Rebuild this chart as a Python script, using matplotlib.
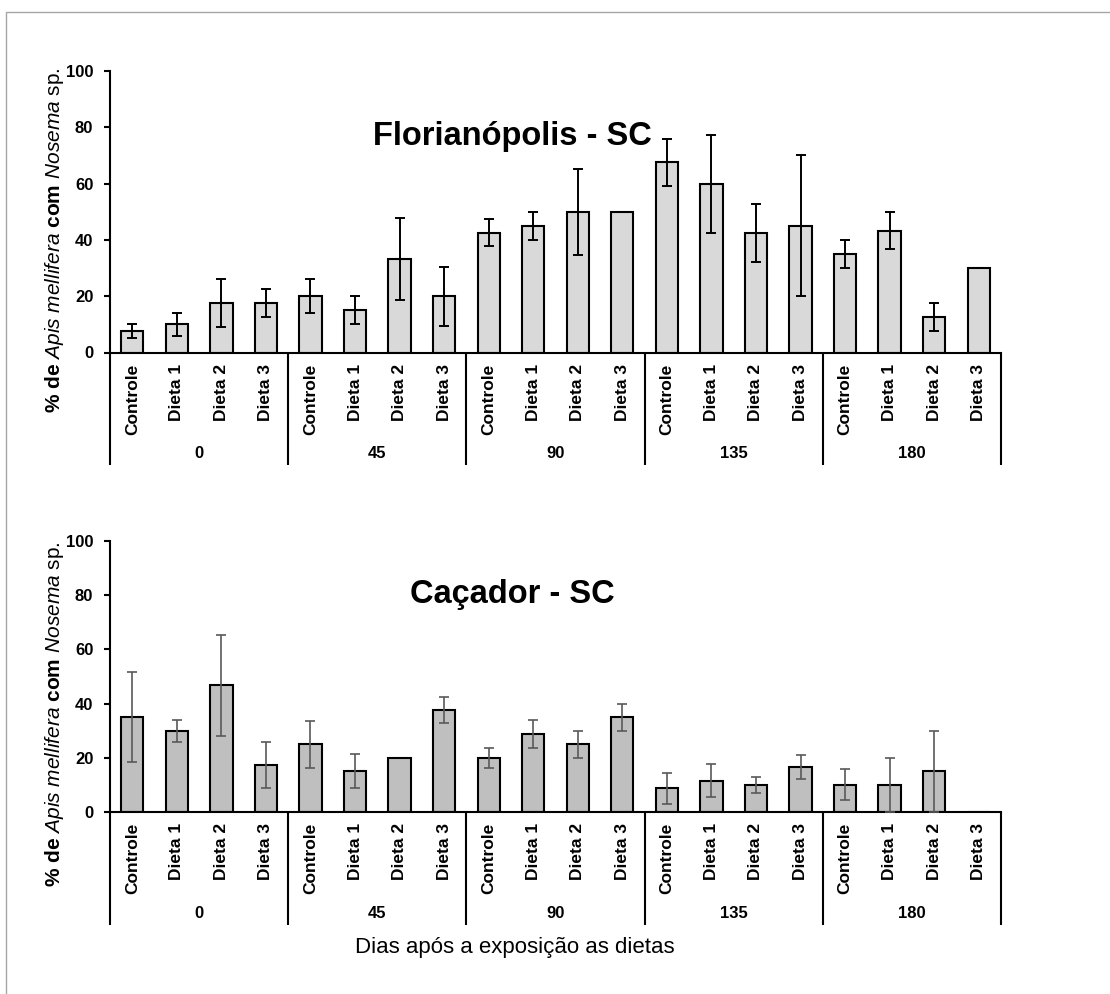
"""
Nosema prevalence bar charts, Florianópolis and Caçador.
"""

import matplotlib.pyplot as plt
import numpy as np
from matplotlib.patches import Rectangle

plt.rcParams["font.family"] = ["Liberation Sans", "DejaVu Sans"]
plt.rcParams["mathtext.fontset"] = "custom"
plt.rcParams["mathtext.rm"] = "Liberation Sans"
plt.rcParams["mathtext.it"] = "Liberation Sans:italic"
plt.rcParams["mathtext.bf"] = "Liberation Sans:bold"

# Data
days = ["0", "45", "90", "135", "180"]
diets = ["Controle", "Dieta 1", "Dieta 2", "Dieta 3"]

floripa_mean = [7.5, 10, 17.5, 17.5,
                20, 15, 33.3, 20,
                42.5, 45, 50, 50,
                67.5, 60, 42.5, 45,
                35, 43.3, 12.5, 30]
floripa_err = [2.5, 4, 8.5, 5,
               6, 5, 14.6, 10.5,
               4.8, 5, 15.3, 0,
               8.5, 17.4, 10.4, 25,
               5, 6.6, 5, 0]

cacador_mean = [35, 30, 46.7, 17.5,
                25, 15, 20, 37.5,
                20, 28.8, 25, 35,
                8.7, 11.6, 10, 16.6,
                10, 10, 15, 0]
cacador_err = [16.5, 4, 18.7, 8.5,
               8.7, 6.3, 0, 4.8,
               3.6, 5.2, 5, 5,
               5.6, 6, 3, 4.3,
               5.7, 10, 15, 0]

W, H = 1110, 994


def draw_panel(ax, means, errs, face, err_color, err_lw, depth, label_y):
    """Draw one grouped bar panel with two-level category axis."""
    means = np.asarray(means, dtype=float)
    errs = np.asarray(errs, dtype=float)
    x = np.arange(len(means))

    ax.bar(x, means, width=0.5, color=face, edgecolor="black",
           linewidth=1.5, zorder=2)
    has = errs > 0
    ax.errorbar(x[has], means[has], yerr=errs[has], fmt="none",
                ecolor=err_color, elinewidth=err_lw, capsize=3.5,
                capthick=err_lw, zorder=3)

    ax.set_xlim(-0.5, len(means) - 0.5)
    ax.set_ylim(0, 100)
    ax.set_yticks(range(0, 101, 20))
    for lab in ax.get_yticklabels():
        lab.set_fontweight("bold")
        lab.set_fontsize(12)
    ax.tick_params(axis="y", length=4, width=1.5, pad=8)

    ax.set_xticks(x)
    ax.set_xticklabels(diets * len(days), rotation=90, fontweight="bold",
                       fontsize=12.5)
    ax.tick_params(axis="x", length=0, pad=8)

    for side in ("top", "right"):
        ax.spines[side].set_visible(False)
    ax.spines["left"].set_linewidth(1.5)
    ax.spines["bottom"].set_linewidth(1.5)

    # Group separators and day labels
    trans = ax.get_xaxis_transform()
    for b in np.arange(0, len(means) + 1, 4) - 0.5:
        ax.plot([b, b], [0, -depth], transform=trans, color="black",
                lw=1.5, clip_on=False, solid_capstyle="butt")
    for i, d in enumerate(days):
        ax.text(4 * i + 1.5, label_y, d, transform=trans, ha="center",
                va="center", fontweight="bold", fontsize=12)


fig = plt.figure(figsize=(W / 100, H / 100), dpi=100)

ax_top = fig.add_axes([110 / W, 1 - 352.5 / H, 891 / W, 281.5 / H])
ax_bot = fig.add_axes([110 / W, 1 - 812 / H, 891 / W, 271 / H])

draw_panel(ax_top, floripa_mean, floripa_err, "#d9d9d9", "black", 1.4,
           0.40, -0.36)
draw_panel(ax_bot, cacador_mean, cacador_err, "#bfbfbf", "#595959", 1.2,
           0.417, -0.373)

ylabel = (r"$\mathbf{\%\ de}$ $\mathit{Apis\ mellifera}$ "
          r"$\mathbf{com}$ $\mathit{Nosema}$ sp.")
fig.text(55 / W, 1 - 240 / H, ylabel, rotation=90, ha="center",
         va="center", fontsize=15)
fig.text(55 / W, 1 - 714 / H, ylabel, rotation=90, ha="center",
         va="center", fontsize=15)

fig.text(512 / W, 1 - 137 / H, "Florianópolis - SC", ha="center",
         va="center", fontsize=23.5, fontweight="bold")
fig.text(512 / W, 1 - 595 / H, "Caçador - SC", ha="center",
         va="center", fontsize=23.5, fontweight="bold")

fig.text(515 / W, 1 - 948 / H, "Dias após a exposição as dietas",
         ha="center", va="center", fontsize=16)

# Light frame round the figure
fig.patches.append(Rectangle((6 / W, -0.1), 1.1, 1.1 - 12 / H,
                             transform=fig.transFigure, fill=False,
                             edgecolor="#a6a6a6", linewidth=1))

fig.savefig("out.png", dpi=100)
